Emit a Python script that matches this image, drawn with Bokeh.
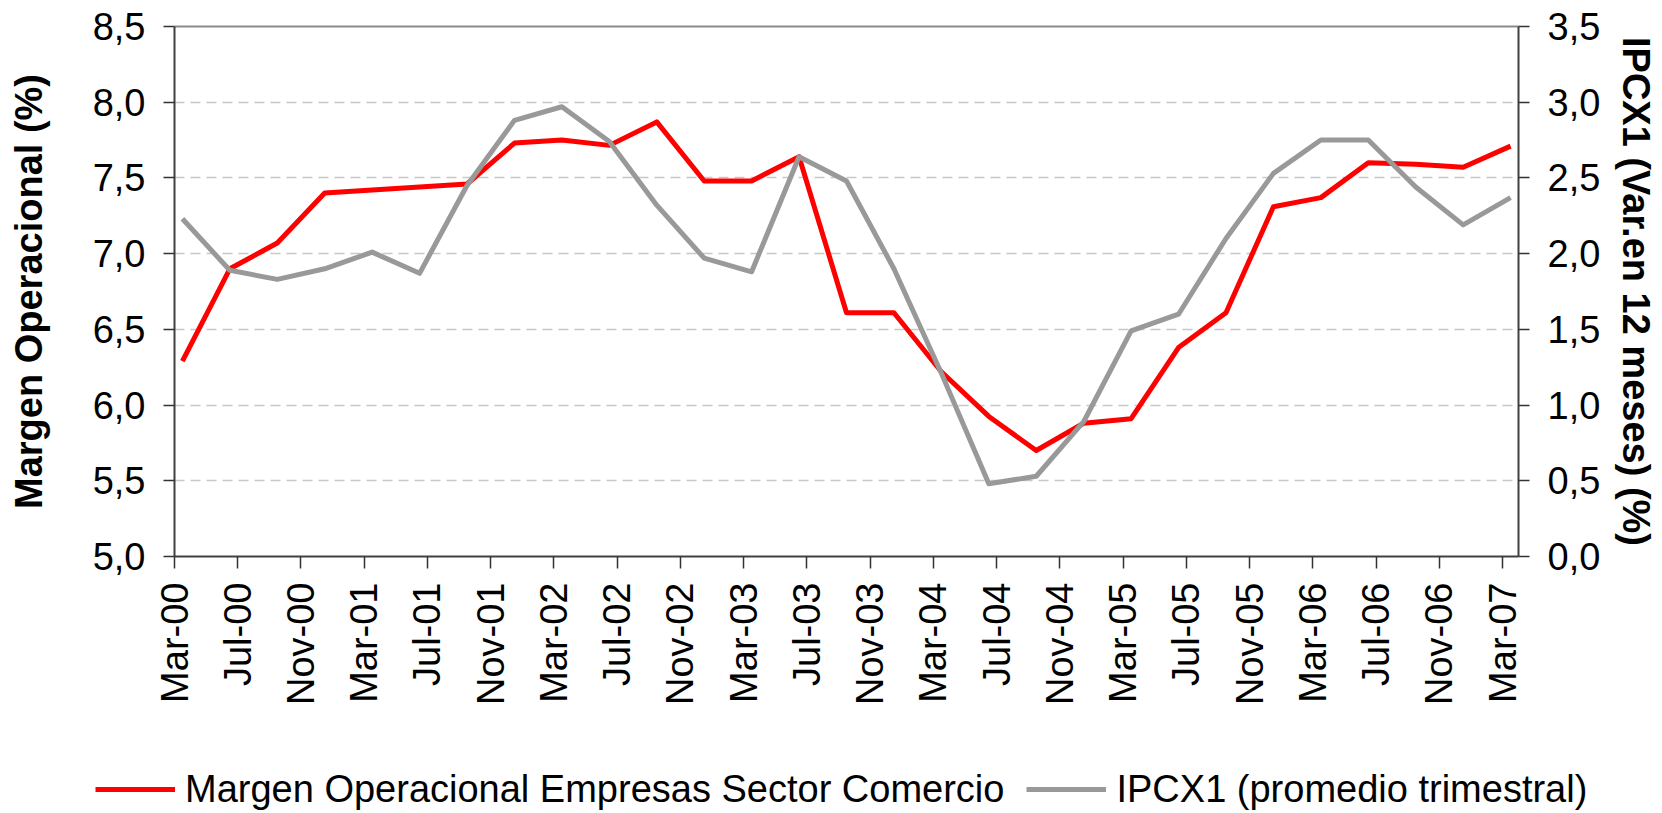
import math
from bokeh.plotting import figure
from bokeh.layouts import column
from bokeh.models import (Range1d, LinearAxis, FixedTicker, CustomJSTickFormatter,
                          Legend, LegendItem)
from bokeh.embed import file_html
from bokeh.resources import INLINE

# ---------------- data ----------------
quarters = ["Mar-00", "Jun-00", "Sep-00", "Dec-00", "Mar-01", "Jun-01", "Sep-01", "Dec-01",
            "Mar-02", "Jun-02", "Sep-02", "Dec-02", "Mar-03", "Jun-03", "Sep-03", "Dec-03",
            "Mar-04", "Jun-04", "Sep-04", "Dec-04", "Mar-05", "Jun-05", "Sep-05", "Dec-05",
            "Mar-06", "Jun-06", "Sep-06", "Dec-06", "Mar-07"]
margen = [6.29, 6.90, 7.07, 7.40, 7.42, 7.44, 7.46, 7.73,
          7.75, 7.715, 7.87, 7.48, 7.48, 7.64, 6.61, 6.61,
          6.22, 5.925, 5.70, 5.88, 5.91, 6.38, 6.61, 7.31,
          7.37, 7.60, 7.59, 7.57, 7.71]
ipc = [2.23, 1.89, 1.83, 1.90, 2.01, 1.87, 2.45, 2.88,
       2.97, 2.74, 2.32, 1.97, 1.88, 2.64, 2.48, 1.90,
       1.21, 0.48, 0.53, 0.89, 1.49, 1.60, 2.10, 2.53,
       2.75, 2.75, 2.44, 2.19, 2.37]
tick_labels = ["Mar-00", "Jul-00", "Nov-00", "Mar-01", "Jul-01", "Nov-01", "Mar-02", "Jul-02",
               "Nov-02", "Mar-03", "Jul-03", "Nov-03", "Mar-04", "Jul-04", "Nov-04", "Mar-05",
               "Jul-05", "Nov-05", "Mar-06", "Jul-06", "Nov-06", "Mar-07"]
left_ticks = [5.0, 5.5, 6.0, 6.5, 7.0, 7.5, 8.0, 8.5]
right_ticks = [0.0, 0.5, 1.0, 1.5, 2.0, 2.5, 3.0, 3.5]

label_margen = "Margen Operacional Empresas Sector Comercio"
label_ipc = "IPCX1 (promedio trimestral)"
title_left = "Margen Operacional (%)"
title_right = "IPCX1 (Var.en 12 meses) (%)"

MONTHS = {"Jan": 1, "Feb": 2, "Mar": 3, "Apr": 4, "May": 5, "Jun": 6,
          "Jul": 7, "Aug": 8, "Sep": 9, "Oct": 10, "Nov": 11, "Dec": 12}


def month_pos(lbl):
    m, y = lbl.split("-")
    return int(y) * 12 + MONTHS[m] - 3


x_q = [month_pos(q) + 0.5 for q in quarters]          # mid-month placement
tick_pos = [month_pos(t) for t in tick_labels]

FONT = "Liberation Sans"
FS = "38px"
RED = "#ff0000"
GREY = "#999999"

p = figure(width=1660, height=760,
           x_range=Range1d(tick_pos[0], tick_pos[-1] + 1),
           y_range=Range1d(left_ticks[0], left_ticks[-1]),
           output_backend="svg", toolbar_location=None,
           min_border_left=174, min_border_right=142,
           min_border_top=26, min_border_bottom=204)
p.extra_y_ranges = {"ipc": Range1d(right_ticks[0], right_ticks[-1])}
p.outline_line_color = None
p.background_fill_color = "white"
p.border_fill_color = "white"

fmt = CustomJSTickFormatter(code="return tick.toFixed(1).replace('.', ',');")

xa = p.below[0]
ya = p.left[0]


def style_y(ax):
    ax.minor_tick_line_color = None
    ax.major_tick_in = 0
    ax.major_tick_out = 11
    ax.major_tick_line_color = "#333333"
    ax.major_tick_line_width = 1.5
    ax.axis_line_color = "#404040"
    ax.axis_line_width = 2
    ax.major_label_standoff = 18
    ax.major_label_text_font = FONT
    ax.major_label_text_font_size = FS
    ax.major_label_text_color = "black"
    ax.axis_label_text_font = FONT
    ax.axis_label_text_font_size = FS
    ax.axis_label_text_font_style = "bold"
    ax.axis_label_text_color = "black"


# left axis
ya.ticker = FixedTicker(ticks=left_ticks)
ya.formatter = fmt
style_y(ya)
ya.axis_label = title_left
ya.axis_label_standoff = 40

# right axis
ra = LinearAxis(y_range_name="ipc", ticker=FixedTicker(ticks=right_ticks), formatter=fmt)
style_y(ra)
ra.axis_label = title_right
ra.axis_label_standoff = 12
p.add_layout(ra, "right")

# bottom axis
xa.ticker = FixedTicker(ticks=tick_pos)
xa.major_label_overrides = {tp: tl for tp, tl in zip(tick_pos, tick_labels)}
xa.major_label_orientation = math.pi / 2
xa.minor_tick_line_color = None
xa.major_tick_in = 0
xa.major_tick_out = 12
xa.major_tick_line_color = "#333333"
xa.major_tick_line_width = 1.5
xa.axis_line_color = "#404040"
xa.axis_line_width = 2
xa.major_label_standoff = 14
xa.major_label_text_font = FONT
xa.major_label_text_font_size = FS
xa.major_label_text_color = "black"

# top border line
ta = LinearAxis(ticker=FixedTicker(ticks=[]))
ta.major_tick_line_color = None
ta.minor_tick_line_color = None
ta.major_label_text_font_size = "0px"
ta.axis_line_color = "#8a8a8a"
ta.axis_line_width = 2
p.add_layout(ta, "above")

# grid
p.xgrid.visible = False
p.ygrid.ticker = FixedTicker(ticks=left_ticks[1:-1])
p.ygrid.grid_line_color = "#c8c8c8"
p.ygrid.grid_line_width = 1.5
p.ygrid.grid_line_dash = "10 6"

# lines
p.line(x_q, margen, line_color=RED, line_width=5, line_join="round")
p.line(x_q, ipc, line_color=GREY, line_width=5, line_join="round", y_range_name="ipc")

# ---------------- legend strip ----------------
p2 = figure(width=1660, height=51, output_backend="svg", toolbar_location=None,
            x_axis_type=None, y_axis_type=None,
            x_range=Range1d(-1000, -999), y_range=Range1d(-1000, -999),
            min_border=0)
p2.outline_line_color = None
p2.grid.visible = False
p2.background_fill_color = "white"
p2.border_fill_color = "white"
if "frame_align" in p2.properties():
    p.frame_align = False
    p2.frame_align = False
l1 = p2.line(x_q, margen, line_color=RED, line_width=5)
l2 = p2.line(x_q, ipc, line_color=GREY, line_width=5)
legend = Legend(items=[LegendItem(label=label_margen, renderers=[l1]),
                       LegendItem(label=label_ipc, renderers=[l2])],
                orientation="horizontal", location=(95, 0),
                glyph_width=80, glyph_height=44, label_height=44,
                label_standoff=10, spacing=22, padding=0, margin=0,
                border_line_color=None, background_fill_alpha=0,
                label_text_font=FONT, label_text_font_size=FS,
                label_text_color="black")
p2.add_layout(legend)

open("out.html", "w").write(file_html(column(p, p2, spacing=0), INLINE))
